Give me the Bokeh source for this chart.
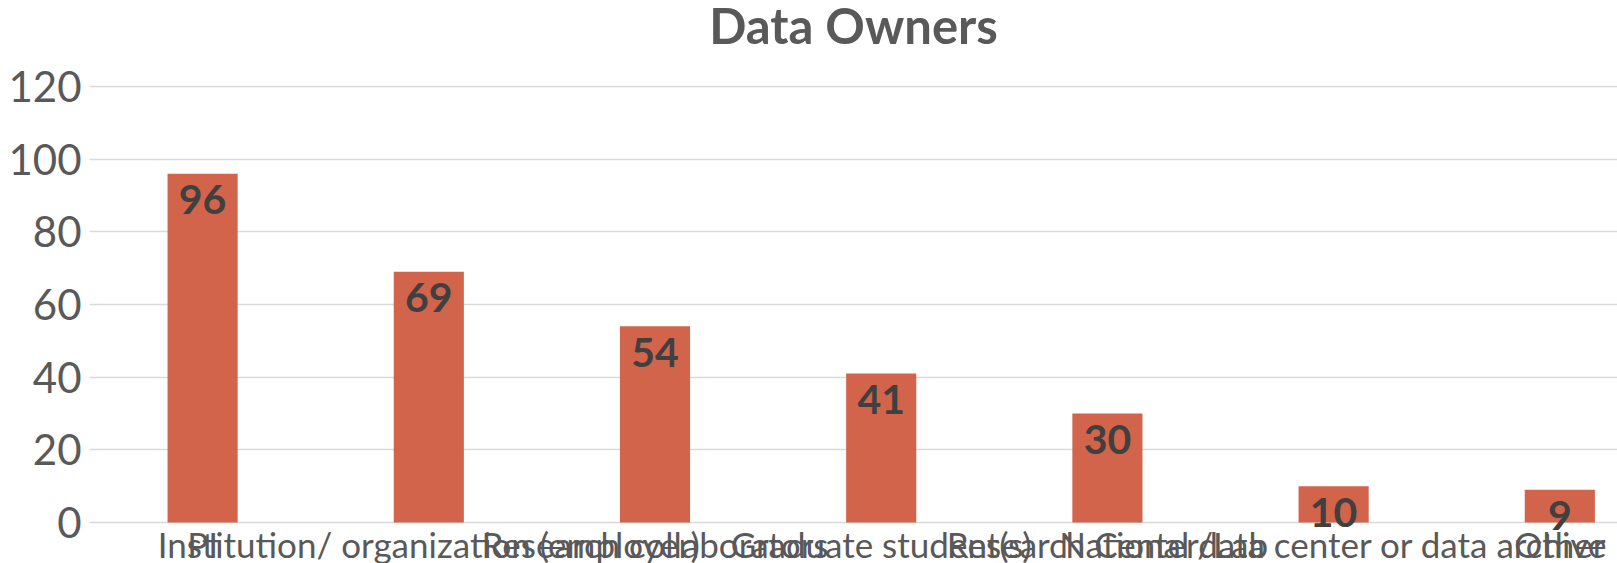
from bokeh.plotting import figure
from bokeh.models import ColumnDataSource, Range1d, FixedTicker
from bokeh.core.properties import value
from bokeh.embed import file_html
from bokeh.resources import INLINE

title_text = "Data Owners"
categories = ["PI", "Institution/ organization (employer)", "Research collaborators",
              "Graduate student(s)", "Research Center/Lab",
              "National data center or data archive", "Other"]
counts = [96, 69, 54, 41, 30, 10, 9]
y_ticks = [0, 20, 40, 60, 80, 100, 120]

xs = list(range(len(categories)))
source = ColumnDataSource(dict(x=xs, y=counts, label=[str(v) for v in counts],
                               cat=categories, zero=[0] * len(categories)))

x_range = Range1d(-0.5, 6.255)
y_range = Range1d(-11.28, 143.67)

p = figure(width=1617, height=563, output_backend="svg", toolbar_location=None,
           x_range=x_range, y_range=y_range,
           min_border_left=89, min_border_right=0, min_border_top=0, min_border_bottom=0)
p.outline_line_color = None
p.background_fill_color = "white"

p.vbar(x="x", top="y", width=0.31, bottom=0, source=source,
       fill_color="#D1644B", line_color=None)

p.text(x="x", y="y", text="label", source=source, text_align="center",
       text_baseline="middle", y_offset=26, text_font=value("Lato"),
       text_font_size="41px", text_font_style="bold", text_color="#404040")

p.text(x="x", y="zero", text="cat", source=source, text_align="center",
       text_baseline="middle", y_offset=21, text_font=value("Lato"),
       text_font_size="35px", text_color="#595959")

p.text(x=[(x_range.start + x_range.end) / 2], y=[y_range.end], text=[title_text],
       text_align="center", text_baseline="middle", y_offset=24,
       text_font=value("Lato"), text_font_size="49px", text_font_style="bold",
       text_color="#595959")

p.xgrid.grid_line_color = None
p.ygrid.grid_line_color = "#D9D9D9"
p.ygrid.grid_line_width = 1.5
p.yaxis.ticker = FixedTicker(ticks=y_ticks)
p.xaxis.visible = False

p.yaxis.axis_line_color = None
p.yaxis.major_tick_line_color = None
p.yaxis.minor_tick_line_color = None
p.yaxis.major_label_text_font = "Lato"
p.yaxis.major_label_text_color = "#595959"
p.yaxis.major_label_text_font_size = "42px"
p.yaxis.major_label_standoff = 2

open("out.html", "w").write(file_html(p, INLINE))
